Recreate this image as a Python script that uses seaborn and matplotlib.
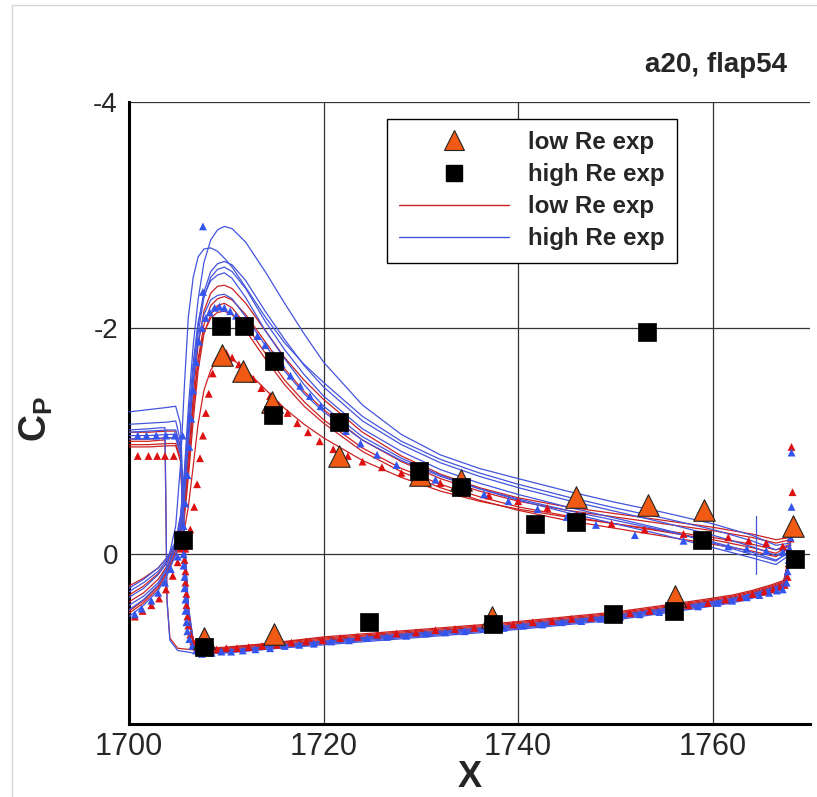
import matplotlib
matplotlib.use("Agg")
import matplotlib.pyplot as plt
import seaborn as sns
import pandas as pd
from matplotlib.lines import Line2D
from matplotlib.patches import Rectangle
from matplotlib.ticker import MultipleLocator

# ---------------- experimental data ----------------
LOW_X = [1707.7, 1709.6, 1711.7, 1714.7, 1714.9, 1721.6, 1729.9, 1734.1, 1737.3, 1745.9, 1753.3, 1756.1, 1759.1, 1768.3]
LOW_CP = [0.74, -1.76, -1.62, -1.35, 0.70, -0.87, -0.70, -0.66, 0.55, -0.51, -0.44, 0.37, -0.39, -0.25]

HIGH_X = [1705.5, 1707.7, 1709.5, 1711.8, 1714.9, 1714.8, 1721.6, 1724.7, 1729.8, 1734.1, 1737.4, 1741.7, 1745.9, 1749.8, 1753.2, 1756.0, 1758.9, 1768.5]
HIGH_CP = [-0.13, 0.82, -2.02, -2.02, -1.71, -1.23, -1.17, 0.60, -0.74, -0.60, 0.62, -0.27, -0.29, 0.53, -1.97, 0.50, -0.13, 0.04]

# ---------------- computed curves (lines) ----------------
X_UP = [1700, 1701.5, 1703, 1704, 1704.8, 1705.3, 1705.7, 1706.1, 1706.6, 1707.1, 1707.7, 1708.4,
        1709.1, 1709.8, 1710.6, 1712, 1714, 1716, 1718, 1720, 1724, 1728, 1732, 1736, 1740, 1745,
        1750, 1755, 1760, 1764, 1766.5, 1768]
X_HEAD_LATE = [1700, 1702, 1704, 1704.8, 1705.3, 1705.7, 1706.1, 1706.6]
X_HEAD_EARLY = [1700, 1702, 1703.3, 1703.7, 1703.8, 1703.9, 1704.2, 1705.0]
X_TAIL = [1707.2, 1708, 1710, 1714, 1720, 1726, 1732, 1738, 1744, 1750, 1755, 1759, 1762, 1764,
          1766, 1767.3, 1767.8, 1768]

B1_UP = [0.30, 0.22, 0.12, 0.02, -0.12, -0.35, -0.75, -1.30, -1.85, -2.25, -2.58, -2.78, -2.87, -2.90, -2.88, -2.76, -2.50, -2.22, -1.95, -1.70, -1.32, -1.06, -0.88, -0.76, -0.67, -0.56, -0.46, -0.37, -0.27, -0.17, -0.08, -0.10]
B2_UP = [0.38, 0.30, 0.18, 0.06, -0.25, -0.80, -1.50, -2.10, -2.45, -2.63, -2.70, -2.71, -2.68, -2.62, -2.54, -2.36, -2.10, -1.87, -1.68, -1.52, -1.22, -1.00, -0.84, -0.72, -0.62, -0.51, -0.41, -0.32, -0.22, -0.12, -0.04, -0.08]
B3_UP = [0.49, 0.40, 0.27, 0.12, -0.06, -0.28, -0.62, -1.10, -1.62, -2.02, -2.32, -2.50, -2.57, -2.59, -2.56, -2.42, -2.15, -1.90, -1.67, -1.48, -1.18, -0.97, -0.81, -0.69, -0.59, -0.48, -0.38, -0.28, -0.17, -0.07, 0.01, -0.06]
B4_UP = [0.55, 0.45, 0.32, 0.17, 0.00, -0.20, -0.50, -0.98, -1.52, -1.95, -2.27, -2.45, -2.52, -2.54, -2.50, -2.35, -2.06, -1.81, -1.59, -1.40, -1.11, -0.91, -0.75, -0.63, -0.53, -0.42, -0.32, -0.22, -0.10, 0.00, 0.06, -0.04]
B5_UP = [0.33, 0.25, 0.15, 0.04, -0.10, -0.32, -0.70, -1.20, -1.70, -2.05, -2.29, -2.42, -2.47, -2.49, -2.44, -2.27, -1.98, -1.73, -1.50, -1.31, -1.04, -0.85, -0.70, -0.58, -0.48, -0.37, -0.27, -0.17, -0.06, 0.03, 0.09, 0.00]
B6_UP = [0.45, 0.37, 0.25, 0.10, -0.08, -0.30, -0.62, -1.05, -1.52, -1.88, -2.12, -2.25, -2.29, -2.30, -2.26, -2.10, -1.85, -1.62, -1.42, -1.26, -1.01, -0.83, -0.69, -0.58, -0.49, -0.39, -0.30, -0.21, -0.11, -0.02, 0.05, -0.02]

R1_UP = [0.36, 0.28, 0.17, 0.06, -0.08, -0.22, -0.45, -0.85, -1.40, -1.85, -2.15, -2.31, -2.37, -2.38, -2.35, -2.22, -1.98, -1.74, -1.54, -1.37, -1.08, -0.87, -0.71, -0.59, -0.50, -0.42, -0.36, -0.30, -0.24, -0.18, -0.13, -0.15]
R2_UP = [0.42, 0.34, 0.22, 0.09, -0.05, -0.18, -0.38, -0.75, -1.28, -1.72, -2.03, -2.20, -2.26, -2.28, -2.25, -2.12, -1.88, -1.64, -1.44, -1.28, -1.01, -0.82, -0.67, -0.56, -0.47, -0.39, -0.33, -0.27, -0.21, -0.15, -0.10, -0.13]
R3_UP = [0.50, 0.41, 0.28, 0.13, -0.03, -0.15, -0.33, -0.68, -1.18, -1.62, -1.95, -2.12, -2.20, -2.22, -2.18, -2.03, -1.78, -1.54, -1.35, -1.19, -0.94, -0.76, -0.62, -0.51, -0.42, -0.34, -0.27, -0.20, -0.13, -0.06, -0.01, -0.08]
R4_UP = [0.28, 0.21, 0.12, 0.02, -0.10, -0.25, -0.48, -0.85, -1.32, -1.70, -1.96, -2.09, -2.14, -2.15, -2.12, -1.98, -1.73, -1.50, -1.31, -1.16, -0.91, -0.73, -0.59, -0.48, -0.39, -0.30, -0.23, -0.16, -0.09, -0.03, 0.02, -0.06]
R5_UP = [0.52, 0.43, 0.30, 0.15, 0.00, -0.10, -0.22, -0.42, -0.78, -1.15, -1.45, -1.63, -1.72, -1.75, -1.73, -1.63, -1.46, -1.29, -1.15, -1.03, -0.83, -0.68, -0.56, -0.47, -0.40, -0.33, -0.27, -0.21, -0.15, -0.09, -0.04, -0.09]

B1_HEAD = [-1.26, -1.28, -1.30, -1.31, -1.15, -0.20, 0.45, 0.76]
B2_HEAD = [-1.15, -1.16, -1.17, -1.18, -1.00, -0.10, 0.50, 0.78]
B3_HEAD = [-1.08, -1.09, -1.10, -1.10, -0.95, -0.05, 0.52, 0.78]
B4_HEAD = [-1.05, -1.05, -1.06, -1.06, -0.90, 0.00, 0.55, 0.80]
B5_HEAD = [-1.10, -1.11, -1.12, -1.12, -0.40, 0.40, 0.76, 0.85]   # early drop
B6_HEAD = [-1.02, -1.02, -1.03, -1.03, -0.88, 0.02, 0.55, 0.79]
R1_HEAD = [-1.08, -1.08, -1.09, -1.09, -0.95, -0.10, 0.48, 0.76]
R2_HEAD = [-1.02, -1.02, -1.03, -1.03, -0.90, -0.05, 0.50, 0.77]
R3_HEAD = [-0.97, -0.97, -0.98, -0.98, -0.85, 0.00, 0.52, 0.77]
R4_HEAD = [-1.00, -1.00, -1.01, -1.01, -0.35, 0.40, 0.74, 0.83]   # early drop
R5_HEAD = [-0.95, -0.95, -0.96, -0.96, -0.82, 0.02, 0.52, 0.76]

B1_TAIL = [0.86, 0.87, 0.86, 0.83, 0.78, 0.74, 0.70, 0.66, 0.61, 0.56, 0.50, 0.45, 0.41, 0.37, 0.32, 0.28, 0.12, -0.10]
B2_TAIL = [0.87, 0.88, 0.87, 0.84, 0.79, 0.75, 0.71, 0.67, 0.62, 0.57, 0.51, 0.46, 0.42, 0.38, 0.33, 0.29, 0.10, -0.08]
B3_TAIL = [0.85, 0.86, 0.85, 0.82, 0.77, 0.73, 0.69, 0.65, 0.60, 0.55, 0.49, 0.44, 0.40, 0.36, 0.31, 0.27, 0.08, -0.06]
B4_TAIL = [0.86, 0.87, 0.86, 0.82, 0.77, 0.72, 0.68, 0.64, 0.59, 0.54, 0.48, 0.43, 0.39, 0.35, 0.30, 0.26, 0.10, -0.04]
B5_TAIL = [0.88, 0.88, 0.87, 0.84, 0.80, 0.76, 0.72, 0.68, 0.63, 0.58, 0.52, 0.47, 0.43, 0.39, 0.34, 0.30, 0.12, 0.00]
B6_TAIL = [0.86, 0.86, 0.85, 0.82, 0.78, 0.74, 0.70, 0.66, 0.61, 0.56, 0.50, 0.45, 0.41, 0.37, 0.32, 0.28, 0.10, -0.02]
R1_TAIL = [0.83, 0.84, 0.83, 0.80, 0.75, 0.71, 0.67, 0.63, 0.58, 0.53, 0.47, 0.42, 0.38, 0.34, 0.29, 0.25, 0.05, -0.15]
R2_TAIL = [0.84, 0.85, 0.84, 0.81, 0.76, 0.72, 0.68, 0.64, 0.59, 0.54, 0.48, 0.43, 0.39, 0.35, 0.30, 0.26, 0.06, -0.13]
R3_TAIL = [0.82, 0.83, 0.82, 0.79, 0.74, 0.70, 0.66, 0.62, 0.57, 0.52, 0.46, 0.41, 0.37, 0.33, 0.28, 0.24, 0.05, -0.08]
R4_TAIL = [0.85, 0.86, 0.85, 0.82, 0.77, 0.73, 0.69, 0.65, 0.60, 0.55, 0.49, 0.44, 0.40, 0.36, 0.31, 0.27, 0.08, -0.06]
R5_TAIL = [0.83, 0.84, 0.83, 0.79, 0.73, 0.69, 0.65, 0.61, 0.56, 0.51, 0.45, 0.40, 0.36, 0.32, 0.27, 0.23, 0.04, -0.09]

TEV_X = [1764.4, 1764.4]
TEV_CP = [0.17, -0.34]

# ---------------- computed curves (small triangle markers) ----------------
RED_FLAT_X = [1700.9, 1702.0, 1702.9, 1703.7, 1704.6]
RED_FLAT_CP = [-0.87, -0.87, -0.87, -0.87, -0.87]
BLUE_FLAT_X = [1700.9, 1701.8, 1702.8, 1703.8, 1704.7, 1705.5]
BLUE_FLAT_CP = [-1.05, -1.05, -1.05, -1.05, -1.05, -1.05]
RED_LL_X = [1700.6, 1701.4, 1702.3, 1703.1, 1703.8, 1704.5, 1705.0, 1705.3]
RED_LL_CP = [0.55, 0.50, 0.45, 0.39, 0.31, 0.19, 0.07, -0.05]
BLUE_LL_X = [1700.6, 1701.3, 1702.3, 1703.0, 1703.7, 1704.3, 1705.0, 1705.4]
BLUE_LL_CP = [0.53, 0.48, 0.41, 0.34, 0.25, 0.13, 0.02, -0.10]
BLUE_VB_X = [1705.6, 1705.6, 1705.7, 1705.7, 1705.8, 1705.8, 1705.9, 1706.0, 1706.2, 1706.5, 1706.9]
BLUE_VB_CP = [0.00, 0.10, 0.20, 0.30, 0.40, 0.50, 0.60, 0.68, 0.75, 0.81, 0.85]
RED_VB_X = [1705.7, 1705.8, 1705.8, 1705.9, 1705.9, 1706.0, 1706.1, 1706.3, 1706.6, 1707.0]
RED_VB_CP = [0.05, 0.15, 0.25, 0.35, 0.45, 0.55, 0.63, 0.71, 0.77, 0.82]
BLUE_LS_X = [1707.5, 1708.5, 1709.5, 1710.5, 1711.7, 1713, 1714.5, 1716, 1717.5, 1719, 1720.8, 1722.6,
             1724.5, 1726.5, 1728.5, 1730.5, 1732.5, 1734.5, 1736.5, 1738.5, 1740.5, 1742.5, 1744.5,
             1746.5, 1748.5, 1750.5, 1752.5, 1754.5, 1756.5, 1758.5, 1760.5, 1762, 1763.5, 1764.8,
             1765.8, 1766.6, 1767.2]
BLUE_LS_CP = [0.88, 0.87, 0.86, 0.86, 0.85, 0.84, 0.83, 0.81, 0.80, 0.79, 0.77, 0.76, 0.74, 0.73,
              0.72, 0.70, 0.69, 0.68, 0.66, 0.65, 0.63, 0.62, 0.60, 0.59, 0.57, 0.55, 0.53, 0.51,
              0.48, 0.46, 0.43, 0.41, 0.38, 0.36, 0.34, 0.32, 0.31]
RED_LS_X = [1708.0, 1709.0, 1710.0, 1711.1, 1712.3, 1713.7, 1715.2, 1716.7, 1718.2, 1719.9, 1721.7,
            1723.5, 1725.5, 1727.5, 1729.5, 1731.5, 1733.5, 1735.5, 1737.5, 1739.5, 1741.5, 1743.5,
            1745.5, 1747.5, 1749.5, 1751.5, 1753.5, 1755.5, 1757.5, 1759.5, 1761.3, 1762.8, 1764.1,
            1765.3, 1766.2, 1766.9, 1767.4]
RED_LS_CP = [0.84, 0.84, 0.83, 0.83, 0.82, 0.81, 0.80, 0.78, 0.77, 0.76, 0.74, 0.73, 0.71, 0.70,
             0.69, 0.67, 0.66, 0.65, 0.63, 0.62, 0.60, 0.59, 0.57, 0.56, 0.54, 0.52, 0.50, 0.48,
             0.45, 0.43, 0.40, 0.38, 0.35, 0.33, 0.31, 0.29, 0.27]
BLUE_TE_X = [1767.6, 1767.7, 1767.8, 1767.9, 1768.0, 1768.0, 1768.1, 1768.1]
BLUE_TE_CP = [0.25, 0.15, 0.05, -0.05, -0.15, -0.25, -0.42, -0.90]
RED_TE_X = [1767.7, 1767.8, 1767.9, 1768.0, 1768.0, 1768.2, 1768.1]
RED_TE_CP = [0.20, 0.08, -0.04, -0.14, -0.24, -0.55, -0.95]
RED_US_X = [1705.8, 1706.3, 1706.7, 1707.0, 1707.3, 1707.6, 1707.9, 1708.2, 1708.6, 1709.0, 1709.5,
            1710.0, 1710.6, 1711.3, 1712.0, 1712.8, 1713.6, 1714.5, 1715.4, 1716.3, 1717.3, 1718.4,
            1719.6, 1721.0, 1722.5, 1724.0, 1726.0, 1728.0, 1730.0, 1732.0, 1734.5, 1737.0, 1740.0,
            1743.0, 1746.0, 1749.6, 1753.0, 1757.0, 1761.6, 1763.7, 1765.5, 1767.2]
RED_US_CP = [-0.05, -0.22, -0.42, -0.62, -0.85, -1.05, -1.25, -1.42, -1.60, -1.72, -1.79, -1.78,
             -1.74, -1.68, -1.62, -1.55, -1.47, -1.40, -1.32, -1.25, -1.16, -1.08, -1.00, -0.93,
             -0.87, -0.82, -0.77, -0.72, -0.68, -0.63, -0.58, -0.52, -0.47, -0.41, -0.35, -0.27,
             -0.22, -0.18, -0.15, -0.12, -0.10, -0.07]
BLUE_US_X = [1705.6, 1705.8, 1706.0, 1706.2, 1706.4, 1706.6, 1706.9, 1707.2, 1707.5, 1707.9, 1708.3,
             1708.8, 1709.3, 1709.8, 1710.4, 1711.0, 1711.7, 1712.4, 1713.2, 1714.0, 1714.8, 1715.7,
             1716.6, 1717.6, 1718.6, 1719.7, 1721.0, 1722.3, 1723.8, 1725.5, 1727.5, 1729.5, 1731.5,
             1734.0, 1736.5, 1739.0, 1742.0, 1745.0, 1748.0, 1752.0, 1757.0, 1761.6, 1763.5, 1765.5,
             1767.2]
BLUE_US_CP = [-0.25, -0.45, -0.70, -0.95, -1.20, -1.45, -1.70, -1.88, -2.00, -2.09, -2.14, -2.18,
              -2.19, -2.18, -2.15, -2.11, -2.06, -2.01, -1.93, -1.85, -1.77, -1.68, -1.58, -1.49,
              -1.40, -1.31, -1.19, -1.09, -0.98, -0.88, -0.79, -0.72, -0.66, -0.59, -0.53, -0.47,
              -0.40, -0.33, -0.26, -0.17, -0.12, -0.07, -0.05, -0.03, -0.02]
BLUE_ISO_X = [1707.6, 1707.6]
BLUE_ISO_CP = [-2.90, -2.32]

LEGEND_LABELS = ["low Re exp", "high Re exp", "low Re exp", "high Re exp"]
TITLE = "a20, flap54"

# ---------------- styling ----------------
RED_LINE = "#cc2222"
BLUE_LINE = "#4455dd"
RED_MK = "#dd1111"
BLUE_MK = "#3355ee"
ORANGE = "#f05a14"

sns.set_style("white")
plt.rcParams["font.family"] = ["Liberation Sans", "DejaVu Sans"]
plt.rcParams["axes.unicode_minus"] = False
plt.rcParams["mathtext.fontset"] = "custom"
plt.rcParams["mathtext.bf"] = "Liberation Sans:bold"
plt.rcParams["mathtext.rm"] = "Liberation Sans"

fig = plt.figure(figsize=(8.17, 7.97), dpi=100)
ax = fig.add_axes([129 / 817, 1 - 724 / 797, 681 / 817, 622 / 797])

# build line table
rows = []
curves = [
    ("red", "R1", R1_UP, X_HEAD_LATE, R1_HEAD, R1_TAIL),
    ("red", "R2", R2_UP, X_HEAD_LATE, R2_HEAD, R2_TAIL),
    ("red", "R3", R3_UP, X_HEAD_LATE, R3_HEAD, R3_TAIL),
    ("red", "R4", R4_UP, X_HEAD_EARLY, R4_HEAD, R4_TAIL),
    ("red", "R5", R5_UP, X_HEAD_LATE, R5_HEAD, R5_TAIL),
    ("blue", "B1", B1_UP, X_HEAD_LATE, B1_HEAD, B1_TAIL),
    ("blue", "B2", B2_UP, X_HEAD_LATE, B2_HEAD, B2_TAIL),
    ("blue", "B3", B3_UP, X_HEAD_LATE, B3_HEAD, B3_TAIL),
    ("blue", "B4", B4_UP, X_HEAD_LATE, B4_HEAD, B4_TAIL),
    ("blue", "B5", B5_UP, X_HEAD_EARLY, B5_HEAD, B5_TAIL),
    ("blue", "B6", B6_UP, X_HEAD_LATE, B6_HEAD, B6_TAIL),
]
for fam, name, up, xhead, head, tail in curves:
    for x, c in zip(X_UP, up):
        rows.append((fam, name + "_up", x, c))
    for x, c in zip(xhead + X_TAIL, head + tail):
        rows.append((fam, name + "_lo", x, c))
for x, c in zip(TEV_X, TEV_CP):
    rows.append(("blue", "TEV", x, c))
lines_df = pd.DataFrame(rows, columns=["family", "path", "x", "cp"])

sns.lineplot(data=lines_df, x="x", y="cp", hue="family", units="path", estimator=None,
             sort=False, palette={"red": RED_LINE, "blue": BLUE_LINE}, lw=0.9,
             legend=False, ax=ax, zorder=3)

red_mx = RED_FLAT_X + RED_LL_X + RED_VB_X + RED_LS_X + RED_TE_X + RED_US_X
red_my = RED_FLAT_CP + RED_LL_CP + RED_VB_CP + RED_LS_CP + RED_TE_CP + RED_US_CP
blue_mx = BLUE_FLAT_X + BLUE_LL_X + BLUE_VB_X + BLUE_LS_X + BLUE_TE_X + BLUE_US_X + BLUE_ISO_X
blue_my = BLUE_FLAT_CP + BLUE_LL_CP + BLUE_VB_CP + BLUE_LS_CP + BLUE_TE_CP + BLUE_US_CP + BLUE_ISO_CP

sns.scatterplot(x=red_mx, y=red_my, marker="^", s=32, color=RED_MK, edgecolor="none",
                ax=ax, zorder=4)
sns.scatterplot(x=blue_mx, y=blue_my, marker="^", s=32, color=BLUE_MK, edgecolor="none",
                ax=ax, zorder=4)
sns.scatterplot(x=LOW_X, y=LOW_CP, marker="^", s=240, color=ORANGE, edgecolor="#222222",
                linewidth=0.8, ax=ax, zorder=5)
sns.scatterplot(x=HIGH_X, y=HIGH_CP, marker="s", s=160, color="black", edgecolor="black",
                linewidth=0.5, ax=ax, zorder=5)

# axes
ax.set_xlim(1700, 1770)
ax.set_ylim(1.5, -4)
ax.set_xticks([1700, 1720, 1740, 1760])
ax.set_yticks([-4, -2, 0])
ax.set_yticklabels(["-4", "-2", "0"])
ax.xaxis.set_minor_locator(MultipleLocator(5))
ax.yaxis.set_minor_locator(MultipleLocator(0.5))
ax.grid(True, which="major", color="#333333", lw=0.9)
ax.set_axisbelow(True)
for s in ["top", "right"]:
    ax.spines[s].set_visible(False)
for s in ["left", "bottom"]:
    ax.spines[s].set_linewidth(2.2)
    ax.spines[s].set_color("black")
ax.tick_params(axis="x", which="major", direction="in", length=12, width=2, labelsize=22, pad=6)
ax.tick_params(axis="x", which="minor", direction="in", length=7, width=1.2)
ax.tick_params(axis="y", which="major", direction="in", length=9, width=2, labelsize=20, pad=8)
ax.tick_params(axis="y", which="minor", direction="in", length=5, width=1.2)

ax.set_xlabel("X", fontsize=26, fontweight="bold")
ax.set_ylabel(r"$\mathbf{C}_{\mathbf{P}}$", fontsize=27)
ax.xaxis.set_label_coords(0.5, -0.058)
ax.yaxis.set_label_coords(-0.108, 0.49)

fig.text(787 / 817, 1 - 65 / 797, TITLE, ha="right", va="center", fontsize=20,
         fontweight="bold")

handles = [
    Line2D([], [], marker="^", linestyle="none", markersize=15, markerfacecolor=ORANGE,
           markeredgecolor="#222222", markeredgewidth=0.8),
    Line2D([], [], marker="s", linestyle="none", markersize=12, markerfacecolor="black",
           markeredgecolor="black"),
    Line2D([], [], color=RED_LINE, lw=1.0),
    Line2D([], [], color=BLUE_LINE, lw=1.0),
]
leg = ax.legend(handles, LEGEND_LABELS, loc="upper left", bbox_to_anchor=(0.379, 0.973),
                borderaxespad=0, frameon=True, fancybox=False, framealpha=1,
                edgecolor="black", handlelength=4.55, handletextpad=0.78, labelspacing=0.38,
                borderpad=0.5, prop={"weight": "bold", "size": 17.4})
leg.get_frame().set_linewidth(1.0)
leg.set_zorder(10)

fig.patches.append(Rectangle((12 / 817, -0.01), 1.0, 1 - 5 / 797 + 0.01,
                             transform=fig.transFigure, fill=False,
                             edgecolor="#d5d5d5", lw=1.0))

fig.savefig("out.png", dpi=100)
